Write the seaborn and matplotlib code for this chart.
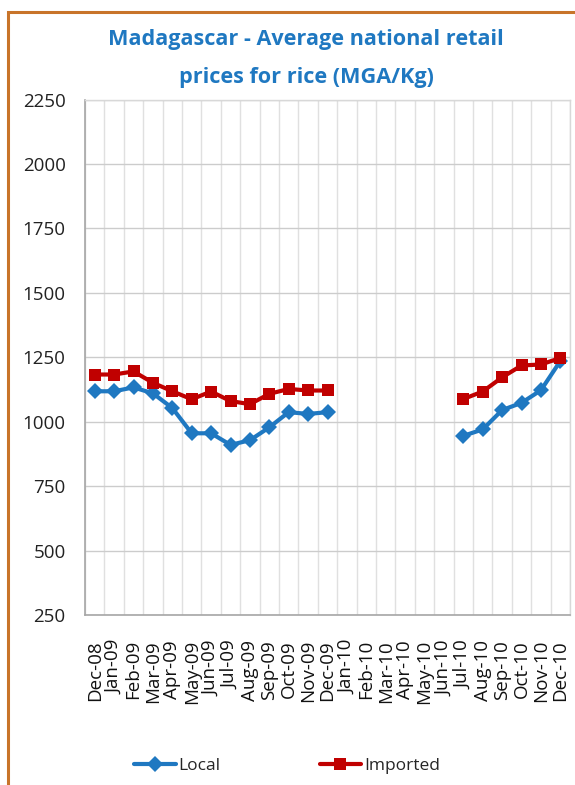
import numpy as np
import pandas as pd
import matplotlib
matplotlib.use("Agg")
import matplotlib.pyplot as plt
from matplotlib.patches import Rectangle
import seaborn as sns

months = ["Dec-08", "Jan-09", "Feb-09", "Mar-09", "Apr-09", "May-09", "Jun-09",
          "Jul-09", "Aug-09", "Sep-09", "Oct-09", "Nov-09", "Dec-09", "Jan-10",
          "Feb-10", "Mar-10", "Apr-10", "May-10", "Jun-10", "Jul-10", "Aug-10",
          "Sep-10", "Oct-10", "Nov-10", "Dec-10"]
nan = np.nan
local = [1118, 1118, 1133, 1110, 1053, 955, 955, 910, 928, 978, 1037, 1030, 1037,
         nan, nan, nan, nan, nan, nan,
         945, 970, 1045, 1073, 1122, 1235]
imported = [1183, 1183, 1195, 1151, 1118, 1087, 1117, 1080, 1068, 1108, 1127, 1121, 1121,
            nan, nan, nan, nan, nan, nan,
            1088, 1117, 1172, 1218, 1222, 1247]
series_names = ["Local", "Imported"]
yticks = [250, 500, 750, 1000, 1250, 1500, 1750, 2000, 2250]

rows = []
for name, vals in zip(series_names, [local, imported]):
    seg = 0
    prev_nan = False
    for i, v in enumerate(vals):
        if np.isnan(v):
            prev_nan = True
            continue
        if prev_nan:
            seg += 1
            prev_nan = False
        rows.append({"pos": i, "month": months[i], "price": v, "series": name, "seg": seg})
df = pd.DataFrame(rows)

sns.set_theme(style="white")
plt.rcParams["font.family"] = ["Open Sans", "DejaVu Sans"]

W, H = 575, 785
fig = plt.figure(figsize=(W / 100, H / 100), dpi=100)
ax = fig.add_axes([85 / W, 1 - 615 / H, (570 - 85) / W, (615 - 99.5) / H])

palette = {"Local": "#1F78C1", "Imported": "#C00000"}
sns.lineplot(data=df, x="pos", y="price", hue="series", style="series",
             units="seg", estimator=None, palette=palette,
             markers={"Local": "D", "Imported": "s"}, dashes=False,
             linewidth=3.0, markersize=8.5, markeredgewidth=0, ax=ax,
             hue_order=series_names, style_order=series_names)

ax.set_xlim(-0.5, len(months) - 0.5)
ax.set_ylim(250, 2250)
ax.set_yticks(yticks)
ax.set_yticklabels([str(t) for t in yticks], fontsize=13.5, color="#222222")
ax.set_xticks(range(len(months)))
ax.set_xticklabels(months, rotation=90, fontsize=13.5, color="#111111", va="top")
ax.set_xticks(np.arange(-0.5, len(months)), minor=True)
ax.tick_params(axis="x", which="both", length=0, pad=18)
ax.tick_params(axis="y", length=0, pad=14)
ax.set_xlabel("")
ax.set_ylabel("")
ax.grid(False)
ax.yaxis.grid(True, color="#cccccc", linewidth=1.0)
ax.xaxis.grid(True, which="minor", color="#e0e0e0", linewidth=1.0)
ax.set_axisbelow(True)
for side in ["top", "right"]:
    ax.spines[side].set_color("#d8d8d8")
    ax.spines[side].set_linewidth(1.0)
for side in ["left", "bottom"]:
    ax.spines[side].set_color("#a6a6a6")
    ax.spines[side].set_linewidth(1.2)

handles, labels = ax.get_legend_handles_labels()
ax.get_legend().remove()
fig.legend(handles, labels, loc="center", bbox_to_anchor=(287 / W, 1 - 766 / H),
           ncol=2, frameon=False, fontsize=12.5, handlelength=2.4,
           handletextpad=0.15, columnspacing=5.7)

fig.text(306 / W, 1 - 40 / H, "Madagascar - Average national retail",
         ha="center", va="center", fontsize=15.6, fontweight="bold", color="#1F78C1")
fig.text(306 / W, 1 - 77 / H, "prices for rice (MGA/Kg)",
         ha="center", va="center", fontsize=15.6, fontweight="bold", color="#1F78C1")

fig.patches.append(Rectangle((8 / W, -0.1), 2, 1 - 12 / H + 0.1, transform=fig.transFigure,
                             fill=False, edgecolor="#C8742A", linewidth=2.2))

fig.savefig("out.png", dpi=100)
